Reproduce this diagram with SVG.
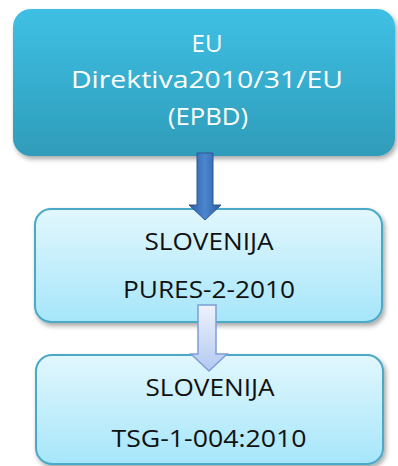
<svg xmlns="http://www.w3.org/2000/svg" width="398" height="466" viewBox="0 0 398 466">
<defs>
<linearGradient id="gTop" x1="0" y1="0" x2="0" y2="1">
<stop offset="0" stop-color="#3ec0e4"/>
<stop offset="1" stop-color="#2f9cba"/>
</linearGradient>
<linearGradient id="gLight" x1="0" y1="0" x2="0" y2="1">
<stop offset="0" stop-color="#e2f7fd"/>
<stop offset="1" stop-color="#a6e6fa"/>
</linearGradient>
<linearGradient id="gA1" x1="0" y1="0" x2="1" y2="0">
<stop offset="0" stop-color="#2f5fa6"/>
<stop offset="0.5" stop-color="#4b86cf"/>
<stop offset="1" stop-color="#2c5a9e"/>
</linearGradient>
<linearGradient id="gA2" x1="0" y1="0" x2="0" y2="1">
<stop offset="0" stop-color="#eef2fc"/>
<stop offset="1" stop-color="#b3c9f1"/>
</linearGradient>
<filter id="sh" x="-10%" y="-10%" width="125%" height="130%">
<feGaussianBlur in="SourceAlpha" stdDeviation="2.5"/>
<feOffset dx="2" dy="3" result="b"/>
<feComponentTransfer><feFuncA type="linear" slope="0.35"/></feComponentTransfer>
<feMerge><feMergeNode/><feMergeNode in="SourceGraphic"/></feMerge>
</filter>
</defs>
<style>
.t{font-family:"Open Sans","Noto Sans","DejaVu Sans",sans-serif;text-anchor:middle;font-size:24px}
.w{fill:#ffffff}
.k{fill:#111111}
.light{fill:url(#gLight);stroke:#4ca8c6;stroke-width:2}
</style>
<g id="node-eu">
<rect x="13" y="9" width="382" height="147" rx="18" fill="url(#gTop)" filter="url(#sh)"/>
<text class="t w" x="207" y="52" textLength="31" lengthAdjust="spacingAndGlyphs">EU</text>
<text class="t w" x="207" y="88" textLength="272" lengthAdjust="spacingAndGlyphs">Direktiva2010/31/EU</text>
<text class="t w" x="208" y="125" textLength="80" lengthAdjust="spacingAndGlyphs">(EPBD)</text>
</g>
<g id="node-pures">
<rect class="light" x="35" y="209" width="347" height="113" rx="16" filter="url(#sh)"/>
<text class="t k" x="209" y="250" textLength="129" lengthAdjust="spacingAndGlyphs">SLOVENIJA</text>
<text class="t k" x="209" y="298" textLength="172" lengthAdjust="spacingAndGlyphs">PURES-2-2010</text>
</g>
<g id="node-tsg">
<rect class="light" x="36" y="355" width="347" height="109" rx="16" filter="url(#sh)"/>
<text class="t k" x="210" y="396" textLength="129" lengthAdjust="spacingAndGlyphs">SLOVENIJA</text>
<text class="t k" x="209" y="447" textLength="195" lengthAdjust="spacingAndGlyphs">TSG-1-004:2010</text>
</g>
<g id="connectors">
<path d="M197,153 H213 V205 H221 L205,220 L189,205 H197 Z" fill="url(#gA1)" stroke="#2b5795" stroke-width="1"/>
<path d="M198,305 H216 V354 H227 L209,371 L191,354 H198 Z" fill="url(#gA2)" stroke="#7e9fd6" stroke-width="1.5"/>
</g>
</svg>
